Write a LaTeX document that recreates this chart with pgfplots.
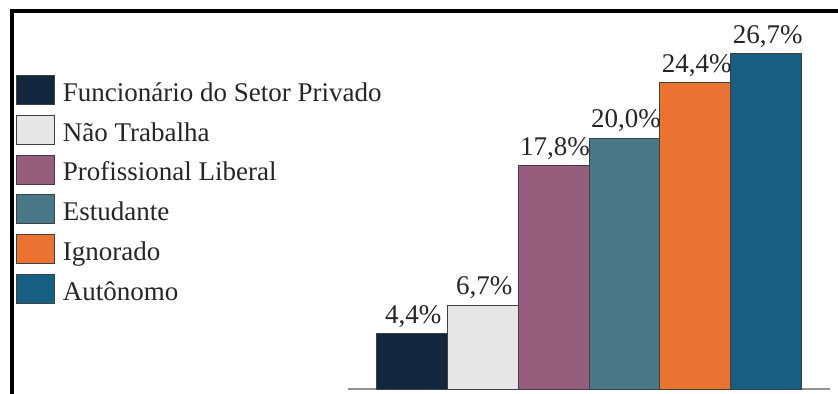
\documentclass[border=0pt]{standalone}
\usepackage{pgfplots}
\pgfplotsset{compat=1.18}
\usepackage{fontspec}
\setmainfont{Liberation Serif}
\definecolor{cA}{RGB}{18,38,62}
\definecolor{cB}{RGB}{230,230,230}
\definecolor{cC}{RGB}{151,93,125}
\definecolor{cD}{RGB}{72,120,136}
\definecolor{cE}{RGB}{234,115,50}
\definecolor{cF}{RGB}{22,94,130}
\begin{document}
\begin{tikzpicture}
\useasboundingbox (0,0) rectangle (838bp,394bp);
\fill[white] (0,0) rectangle (838bp,394bp);
\draw[black, line width=4bp, line join=miter] (11.5bp,0bp) -- (11.5bp,383bp) -- (838bp,383bp);
\begin{axis}[
  at={(348bp,5bp)}, anchor=south west,
  scale only axis, width=482bp, height=369bp,
  xmin=-0.9, xmax=5.9, ymin=0, ymax=29.4,
  axis x line=bottom, axis y line=none,
  x axis line style={-, draw=gray!85, line width=1.3bp},
  xtick=\empty, ytick=\empty,
  ybar, bar width=1, bar shift=0pt,
  clip=false,
  font=\fontsize{27bp}{31bp}\selectfont,
  /pgf/number format/assume math mode=true,
  nodes near coords={\pgfmathprintnumber[fixed,fixed zerofill,precision=1,use comma]{\pgfplotspointmeta}\%},
  every node near coord/.append style={font=\fontsize{27bp}{31bp}\selectfont, inner sep=0pt, text depth=0pt, yshift=10bp, xshift=1.5bp, black!85},
  legend style={at={(-0.6888,0.851)}, anchor=north west, draw=none, fill=none,
    inner sep=0pt, outer sep=0pt, row sep=10.0bp, column sep=8bp,
    cells={anchor=west},
    nodes={inner sep=0pt, text height=26bp, text depth=3bp, text=black!85},
    font=\fontsize{27bp}{31bp}\selectfont},
  legend image code/.code={\draw[#1, draw=black!75, line width=0.8bp] (0bp,-14.5bp) rectangle (38bp,14.5bp);},
]
\addplot[fill=cA, draw=black!75, line width=0.8bp] coordinates {(0,4.4)};
\addlegendentry{Funcionário do Setor Privado}
\addplot[fill=cB, draw=black!75, line width=0.8bp] coordinates {(1,6.7)};
\addlegendentry{Não Trabalha}
\addplot[fill=cC, draw=black!75, line width=0.8bp] coordinates {(2,17.8)};
\addlegendentry{Profissional Liberal}
\addplot[fill=cD, draw=black!75, line width=0.8bp] coordinates {(3,20.0)};
\addlegendentry{Estudante}
\addplot[fill=cE, draw=black!75, line width=0.8bp] coordinates {(4,24.4)};
\addlegendentry{Ignorado}
\addplot[fill=cF, draw=black!75, line width=0.8bp] coordinates {(5,26.7)};
\addlegendentry{Autônomo}
\end{axis}
\end{tikzpicture}
\end{document}
